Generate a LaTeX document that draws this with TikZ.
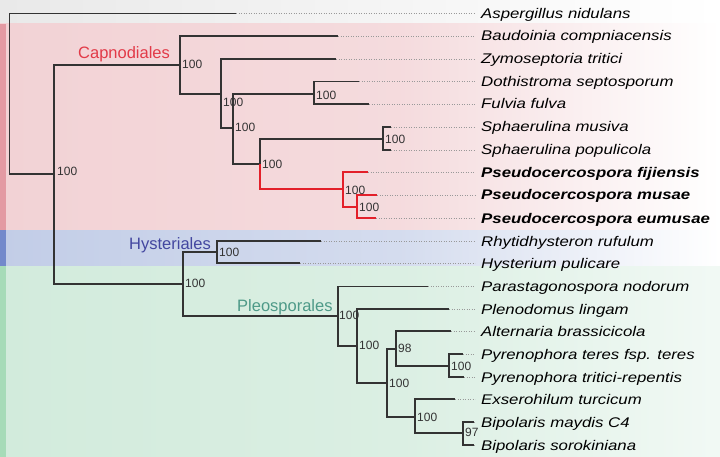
\documentclass[tikz,border=0pt]{standalone}
\usepackage{fontspec}
\setmainfont{Liberation Sans}
\newfontfamily\leaffont[FakeStretch=1.2]{Liberation Sans}
\definecolor{brgray}{HTML}{333333}
\definecolor{brred}{HTML}{E3202A}
\definecolor{capred}{HTML}{E23A48}
\definecolor{hystblue}{HTML}{4347A0}
\definecolor{pleogreen}{HTML}{4E9A88}
\definecolor{bgtop}{HTML}{E9E9E9}
\definecolor{bgcap}{HTML}{F2D2D5}
\definecolor{bghys}{HTML}{C2CDE7}
\definecolor{bgpleo}{HTML}{D2EBDC}
\definecolor{stcap}{HTML}{E39AA3}
\definecolor{sthys}{HTML}{7389CB}
\definecolor{stpleo}{HTML}{A6DBB8}
\tikzset{
  branch/.style={draw=brgray, line width=1.4pt},
  redbranch/.style={draw=brred, line width=2pt},
  leader/.style={draw=gray!80, line width=0.5pt, dotted, shorten >=4pt},
  leaf/.style={anchor=base west, inner sep=2pt, font=\leaffont\itshape\fontsize{14}{16}\selectfont, text=black},
  bleaf/.style={leaf, font=\leaffont\itshape\bfseries\fontsize{14}{16}\selectfont},
  boot/.style={anchor=west, inner sep=1pt, text=brgray, font=\fontsize{12}{14}\selectfont},
  clade/.style={anchor=base west, inner sep=0pt, font=\fontsize{16.5}{18}\selectfont}
}
\begin{document}
\begin{tikzpicture}[x=1pt,y=-1pt]
\useasboundingbox (0,0) rectangle (720,457);
% backgrounds
\fill[left color=bgtop, right color=bgtop!45!white] (0,0) rectangle (400,24);
\fill[left color=bgtop!45!white, right color=white] (400,0) rectangle (720,24);
\fill[left color=bgcap, right color=bgcap!80!white] (0,24) rectangle (400,230.5);
\fill[left color=bgcap!80!white, right color=white] (400,24) rectangle (720,230.5);
\fill[left color=bghys, right color=bghys!70!white] (0,230.5) rectangle (400,266);
\fill[left color=bghys!70!white, right color=white] (400,230.5) rectangle (720,266);
\fill[left color=bgpleo, right color=bgpleo!80!white] (0,266) rectangle (400,457);
\fill[left color=bgpleo!80!white, right color=white!70!bgpleo] (400,266) rectangle (720,457);
\fill[stcap] (0,24) rectangle (6,230.5);
\fill[sthys] (0,230.5) rectangle (6,266);
\fill[stpleo] (0,266) rectangle (6,457);

% internal nodes
\coordinate (R) at (9.5,94);
\coordinate (N1) at (54,174);
\coordinate (N2) at (180,65);
\coordinate (N3) at (221,94);
\coordinate (N4) at (233,128);
\coordinate (N5) at (314,94);
\coordinate (N6) at (260,164);
\coordinate (N7) at (383,139);
\coordinate (N8) at (343,189);
\coordinate (N9) at (357,207);
\coordinate (N10) at (183,284);
\coordinate (N11) at (217,252);
\coordinate (N12) at (338,316);
\coordinate (N13) at (357,346);
\coordinate (N14) at (387,383);
\coordinate (N15) at (396,349);
\coordinate (N16) at (449,366);
\coordinate (N17) at (415,417);
\coordinate (N18) at (463,433);
% leaf tips
\coordinate (tAsp) at (236,13.7);
\coordinate (tBau) at (338,36);
\coordinate (tZym) at (336,59);
\coordinate (tDot) at (359,81.5);
\coordinate (tFul) at (369,104);
\coordinate (tSmu) at (391,127);
\coordinate (tSpo) at (391,150);
\coordinate (tPfi) at (368,172.5);
\coordinate (tPmu) at (377,195);
\coordinate (tPeu) at (376,218);
\coordinate (tRhy) at (321,241);
\coordinate (tHys) at (300,263);
\coordinate (tPar) at (428,286.5);
\coordinate (tPle) at (449,309);
\coordinate (tAlt) at (451,331);
\coordinate (tPte) at (463,354);
\coordinate (tPtr) at (464,377);
\coordinate (tExs) at (455,399);
\coordinate (tBma) at (474,422);
\coordinate (tBso) at (474,445);

% leaf labels
\node[leaf] (Lasp) at (479,18.7) {Aspergillus nidulans};
\node[leaf] (Lbau) at (479,41) {Baudoinia compniacensis};
\node[leaf] (Lzym) at (479,64) {Zymoseptoria tritici};
\node[leaf] (Ldot) at (479,86.5) {Dothistroma septosporum};
\node[leaf] (Lful) at (479,109) {Fulvia fulva};
\node[leaf] (Lsmu) at (479,132) {Sphaerulina musiva};
\node[leaf] (Lspo) at (479,155) {Sphaerulina populicola};
\node[bleaf] (Lpfi) at (479,177.5) {Pseudocercospora fijiensis};
\node[bleaf] (Lpmu) at (479,200) {Pseudocercospora musae};
\node[bleaf] (Lpeu) at (479,223) {Pseudocercospora eumusae};
\node[leaf] (Lrhy) at (479,246) {Rhytidhysteron rufulum};
\node[leaf] (Lhys) at (479,268) {Hysterium pulicare};
\node[leaf] (Lpar) at (479,291.5) {Parastagonospora nodorum};
\node[leaf] (Lple) at (479,314) {Plenodomus lingam};
\node[leaf] (Lalt) at (479,336) {Alternaria brassicicola};
\node[leaf] (Lpte) at (479,359) {Pyrenophora teres fsp. teres};
\node[leaf] (Lptr) at (479,382) {Pyrenophora tritici-repentis};
\node[leaf] (Lexs) at (479,404) {Exserohilum turcicum};
\node[leaf] (Lbma) at (479,427) {Bipolaris maydis C4};
\node[leaf] (Lbso) at (479,450) {Bipolaris sorokiniana};

% leaders
\foreach \t/\l in {tAsp/Lasp,tBau/Lbau,tZym/Lzym,tDot/Ldot,tFul/Lful,tSmu/Lsmu,tSpo/Lspo,tPfi/Lpfi,tPmu/Lpmu,tPeu/Lpeu,tRhy/Lrhy,tHys/Lhys,tPar/Lpar,tPle/Lple,tAlt/Lalt,tPte/Lpte,tPtr/Lptr,tExs/Lexs,tBma/Lbma,tBso/Lbso}
  \draw[leader] (\t) -- (\t -| \l.west);

% branches
\draw[branch] (R) |- (tAsp);
\draw[branch] (R) |- (N1);
\draw[branch] (N1) |- (N2);
\draw[branch] (N1) |- (N10);
\draw[branch] (N2) |- (tBau);
\draw[branch] (N2) |- (N3);
\draw[branch] (N3) |- (tZym);
\draw[branch] (N3) |- (N4);
\draw[branch] (N4) |- (N5);
\draw[branch] (N4) |- (N6);
\draw[branch] (N5) |- (tDot);
\draw[branch] (N5) |- (tFul);
\draw[branch] (N6) |- (N7);
\draw[branch] (N7) |- (tSmu);
\draw[branch] (N7) |- (tSpo);
\draw[redbranch] (N6) |- (N8);
\draw[redbranch] (N8) |- (tPfi);
\draw[redbranch] (N8) |- (N9);
\draw[redbranch] (N9) |- (tPmu);
\draw[redbranch] (N9) |- (tPeu);
\draw[branch] (N10) |- (N11);
\draw[branch] (N10) |- (N12);
\draw[branch] (N11) |- (tRhy);
\draw[branch] (N11) |- (tHys);
\draw[branch] (N12) |- (tPar);
\draw[branch] (N12) |- (N13);
\draw[branch] (N13) |- (tPle);
\draw[branch] (N13) |- (N14);
\draw[branch] (N14) |- (N15);
\draw[branch] (N14) |- (N17);
\draw[branch] (N15) |- (tAlt);
\draw[branch] (N15) |- (N16);
\draw[branch] (N16) |- (tPte);
\draw[branch] (N16) |- (tPtr);
\draw[branch] (N17) |- (tExs);
\draw[branch] (N17) |- (N18);
\draw[branch] (N18) |- (tBma);
\draw[branch] (N18) |- (tBso);

% bootstrap values
\node[boot] (b1) at ([xshift=2pt,yshift=3pt]N1) {100};
\node[boot] (b2) at ([xshift=1pt,yshift=1pt]N2) {100};
\node[boot] (b3) at ([xshift=1pt,yshift=-8pt]N3) {100};
\node[boot] (b4) at ([xshift=1pt,yshift=1pt]N4) {100};
\node[boot] (b5) at ([xshift=1pt,yshift=-1pt]N5) {100};
\node[boot] (b6) at ([xshift=1pt,yshift=0pt]N6) {100};
\node[boot] (b7) at ([xshift=1pt,yshift=0pt]N7) {100};
\node[boot] (b8) at ([xshift=1pt,yshift=-1pt]N8) {100};
\node[boot] (b9) at ([xshift=1pt,yshift=0pt]N9) {100};
\node[boot] (b10) at ([xshift=1pt,yshift=1pt]N10) {100};
\node[boot] (b11) at ([xshift=1pt,yshift=0pt]N11) {100};
\node[boot] (b12) at ([xshift=0pt,yshift=1pt]N12) {100};
\node[boot] (b13) at ([xshift=1pt,yshift=1pt]N13) {100};
\node[boot] (b14) at ([xshift=1pt,yshift=0pt]N14) {100};
\node[boot] (b15) at ([xshift=1pt,yshift=1pt]N15) {98};
\node[boot] (b16) at ([xshift=1pt,yshift=0pt]N16) {100};
\node[boot] (b17) at ([xshift=1pt,yshift=0pt]N17) {100};
\node[boot] (b18) at ([xshift=1pt,yshift=1pt]N18) {97};

% clade names
\node[clade, text=capred] (cCap) at (78,59) {Capnodiales};
\node[clade, text=hystblue] (cHys) at (129,249) {Hysteriales};
\node[clade, text=pleogreen] (cPle) at (237,311) {Pleosporales};
\end{tikzpicture}
\end{document}
